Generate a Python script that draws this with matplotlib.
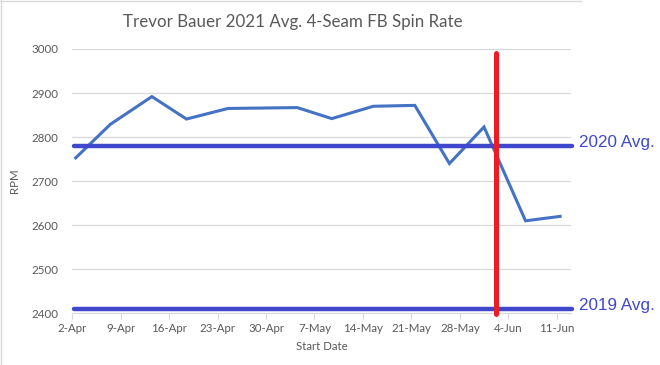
import pandas as pd
import matplotlib.pyplot as plt
import matplotlib.dates as mdates
from matplotlib.lines import Line2D

# ---- DATA ----
start_dates = ["2021-04-02", "2021-04-07", "2021-04-13", "2021-04-18", "2021-04-24",
               "2021-04-29", "2021-05-04", "2021-05-09", "2021-05-15", "2021-05-21",
               "2021-05-26", "2021-05-31", "2021-06-06", "2021-06-11"]
spin_rpm = [2753, 2829, 2892, 2841, 2865, 2866, 2867, 2842, 2870, 2872,
            2740, 2823, 2610, 2620]
tick_dates = ["2021-04-02", "2021-04-09", "2021-04-16", "2021-04-23", "2021-04-30",
              "2021-05-07", "2021-05-14", "2021-05-21", "2021-05-28", "2021-06-04",
              "2021-06-11"]
avg_2020 = 2779
avg_2019 = 2409
marker_date = "2021-06-02 06:00"

FONT = ["Lato", "DejaVu Sans"]
GREY = "#595959"
PAINT_BLUE = "#3F48CC"
PAINT_RED = "#ED1C24"

# Excel date axis plots each point in the middle of its day
x = pd.to_datetime(start_dates) + pd.Timedelta(hours=12)
x0 = pd.Timestamp("2021-04-02")
x1 = pd.Timestamp("2021-06-13")

fig = plt.figure(figsize=(6.6, 3.65), dpi=100)
ax = fig.add_axes([72.3 / 660, 1 - 313.3 / 365, (570.5 - 72.3) / 660, (313.3 - 49) / 365])

ax.set_xlim(x0, x1)
ax.set_ylim(2400, 3000)
ax.set_yticks(range(2400, 3001, 100))
ax.set_xticks(pd.to_datetime(tick_dates))
ax.xaxis.set_major_formatter(mdates.DateFormatter("%-d-%b"))
ax.grid(axis="y", color="#D9D9D9", linewidth=0.9)
ax.set_axisbelow(True)
for s in ["top", "right", "left"]:
    ax.spines[s].set_visible(False)
ax.spines["bottom"].set_color("#D9D9D9")
ax.tick_params(axis="y", length=0, pad=10, labelsize=8.3, labelcolor=GREY)
ax.tick_params(axis="x", length=4, color="#D9D9D9", pad=3, labelsize=8.3, labelcolor=GREY)
for lab in ax.get_xticklabels() + ax.get_yticklabels():
    lab.set_family(FONT)

ax.plot(x, spin_rpm, color="#4472C4", linewidth=2.2, solid_joinstyle="miter", zorder=3)

# ---- PAINTED ANNOTATIONS ----
for val, name in [(avg_2020, "2020 Avg."), (avg_2019, "2019 Avg.")]:
    ax.plot([x0 + pd.Timedelta(hours=6), x1 + pd.Timedelta(hours=6)], [val, val],
            color=PAINT_BLUE, linewidth=3.2, solid_capstyle="round", clip_on=False, zorder=4)
    ax.text(x1 + pd.Timedelta(hours=30), val + 8, name, color=PAINT_BLUE, fontsize=12.3,
            family=["Liberation Sans", "DejaVu Sans"], va="center", ha="left", clip_on=False)

mx = pd.Timestamp(marker_date)
ax.plot([mx, mx], [2992, 2398], color=PAINT_RED, linewidth=3.6, solid_capstyle="round",
        clip_on=False, zorder=5)

ax.set_ylabel("RPM", fontsize=8.3, color=GREY, family=FONT, labelpad=8)
ax.set_xlabel("Start Date", fontsize=8.3, color=GREY, family=FONT, labelpad=5)
fig.text(293 / 660, 1 - 22 / 365, "Trevor Bauer 2021 Avg. 4-Seam FB Spin Rate",
         ha="center", va="center", fontsize=12.2, color=GREY, family=FONT)

# chart area border (top and left only visible)
fig.add_artist(Line2D([0, 580.7 / 660], [1 - 0.5 / 365] * 2, color="#D9D9D9", linewidth=1,
                      transform=fig.transFigure))
fig.add_artist(Line2D([0.8 / 660] * 2, [0, 1], color="#D9D9D9", linewidth=1,
                      transform=fig.transFigure))

fig.savefig("out.png", dpi=100)
plt.close()
